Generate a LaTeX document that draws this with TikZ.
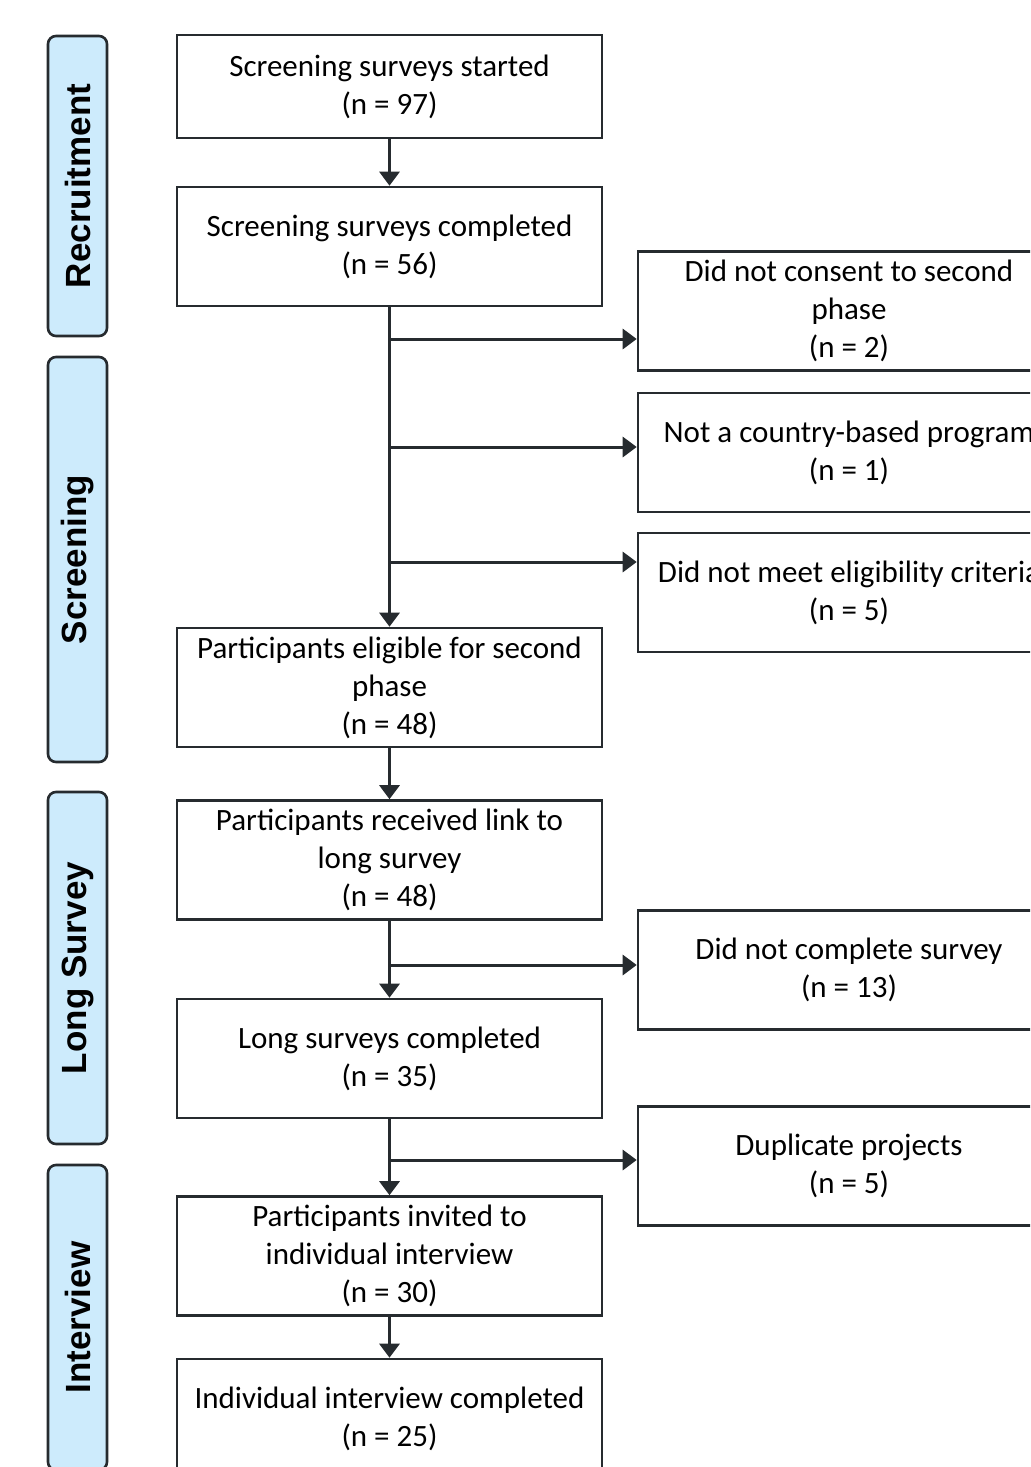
\documentclass[tikz,border=0pt]{standalone}
\usepackage{fontspec}
\setmainfont{Carlito}
\newfontfamily\phasefont{Liberation Sans}
\usetikzlibrary{arrows.meta}
\definecolor{linegray}{HTML}{262B2F}
\definecolor{phaseblue}{HTML}{CDEBFC}
\tikzset{
  box/.style={draw=linegray, line width=1.3pt, fill=white, minimum width=212.5pt,
    minimum height=59.5pt, align=center, inner sep=2pt,
    font=\fontsize{15.5}{19}\selectfont,
    execute at begin node={\rule{0pt}{16.5pt}}},
  phase/.style={draw=linegray, line width=1.3pt, fill=phaseblue, rounded corners=4pt,
    minimum height=29.5pt, rotate=90, inner sep=0pt,
    font=\phasefont\bfseries\fontsize{17.5}{20}\selectfont},
  arr/.style={draw=linegray, line width=1.5pt, -{Triangle[length=7pt,width=10pt]}}
}
\begin{document}
\begin{tikzpicture}[x=0.5pt,y=-0.5pt]
  \clip (0,0) rectangle (1030,1467);
  \fill[white] (0,0) rectangle (1030,1467);

  % phase labels down the left side
  \node[phase, minimum width=150pt]   (recruit)  at (77.5,186)    {Recruitment};
  \node[phase, minimum width=202.5pt] (screen)   at (77.5,559.5)  {Screening};
  \node[phase, minimum width=176pt]   (longsurv) at (77.5,968)    {Long Survey};
  \node[phase, minimum width=152.5pt] (interv)   at (77.5,1317.5) {Interview};

  % main column
  \node[box, minimum height=51.5pt] (started)   at (389.5,86.5)  {Screening surveys started\\(n = 97)};
  \node[box] (completed) at (389.5,246.5)  {Screening surveys completed\\(n = 56)};
  \node[box] (eligible)  at (389.5,687.5)  {Participants eligible for second\\phase\\(n = 48)};
  \node[box] (received)  at (389.5,860)    {Participants received link to\\long survey\\(n = 48)};
  \node[box] (longdone)  at (389.5,1058.5) {Long surveys completed\\(n = 35)};
  \node[box] (invited)   at (389.5,1256)   {Participants invited to\\individual interview\\(n = 30)};
  \node[box] (interdone) at (389.5,1418.5) {Individual interview completed\\(n = 25)};

  % exclusions on the right (cut by the right edge)
  \node[box, minimum width=211pt] (noconsent)   at (849,311)   {Did not consent to second\\phase\\(n = 2)};
  \node[box, minimum width=211pt] (notcountry)  at (849,452.5) {Not a country-based program\\(n = 1)};
  \node[box, minimum width=211pt] (noteligible) at (849,592.5) {Did not meet eligibility criteria\\(n = 5)};
  \node[box, minimum width=211pt] (noncomplete) at (849,970)   {Did not complete survey\\(n = 13)};
  \node[box, minimum width=211pt] (duplicate)   at (849,1166)  {Duplicate projects\\(n = 5)};

  % junctions on the main line
  \coordinate (j1) at (389.5,339);
  \coordinate (j2) at (389.5,447);
  \coordinate (j3) at (389.5,562);
  \coordinate (j4) at (389.5,965);
  \coordinate (j5) at (389.5,1160);

  % flow
  \draw[arr] (started) -- (completed);
  \draw[arr] (completed) -- (eligible);
  \draw[arr] (eligible) -- (received);
  \draw[arr] (received) -- (longdone);
  \draw[arr] (longdone) -- (invited);
  \draw[arr] (invited) -- (interdone);

  % branches
  \draw[arr] (j1) -- (j1 -| noconsent.west);
  \draw[arr] (j2) -- (j2 -| notcountry.west);
  \draw[arr] (j3) -- (j3 -| noteligible.west);
  \draw[arr] (j4) -- (j4 -| noncomplete.west);
  \draw[arr] (j5) -- (j5 -| duplicate.west);
\end{tikzpicture}
\end{document}
